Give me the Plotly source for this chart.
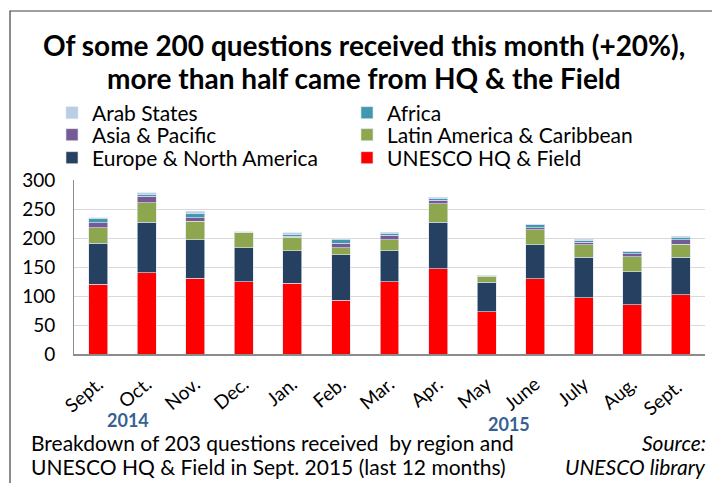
import plotly.graph_objects as go

months = ["Sept.", "Oct.", "Nov.", "Dec.", "Jan.", "Feb.", "Mar.", "Apr.", "May", "June", "July", "Aug.", "Sept. "]
hq_field = [120, 140, 131, 125, 122, 93, 125, 147, 73, 130, 97, 85, 102]
europe_na = [71, 87, 66, 58, 56, 78, 53, 80, 51, 58, 70, 57, 65]
latin_am = [27, 34, 32, 26, 23, 12, 19, 32, 10, 26, 21, 26, 22]
asia_pac = [8, 11, 6, 1, 2, 8, 8, 6, 1, 4, 5, 5, 8]
africa = [7, 3, 7, 0, 3, 7, 3, 3, 0, 5, 2, 3, 4]
arab_states = [2, 3, 4, 1, 3, 1, 2, 2, 1, 1, 3, 1, 2]

# (name, values, colour, legend row)
series = [
    ("UNESCO HQ & Field", hq_field, "#FF0000", "legend3"),
    ("Europe & North America", europe_na, "#254061", "legend3"),
    ("Latin America & Caribbean", latin_am, "#8EA74E", "legend2"),
    ("Asia & Pacific", asia_pac, "#765A96", "legend2"),
    ("Africa", africa, "#4298AF", "legend"),
    ("Arab States", arab_states, "#B9CDE5", "legend"),
]

FONT = "Lato"
# page body has an 8px margin; work in target-image pixels and offset
OFF = 8
W, H = 720 - OFF, 483 - OFF
PL, PR, PT, PB = 74, 705, 180, 354  # plot area in target pixels
L, R, T, B = PL - OFF, W - (PR - OFF), PT - OFF, H - (PB - OFF)
PW = PR - PL
PH = PB - PT

def px(x):
    return (x - PL) / PW

def py(y):
    return (PB - y) / PH

fig = go.Figure()
for name, vals, col, leg in series:
    fig.add_trace(go.Bar(
        x=months, y=vals, name=name, legend=leg,
        marker=dict(color=col, line=dict(color="rgba(220,228,238,0.8)", width=0.8)),
    ))

def legend_row(yc):
    return dict(
        orientation="h", traceorder="reversed",
        x=px(52), y=py(yc), xanchor="left", yanchor="middle",
        entrywidth=250, entrywidthmode="pixels",
        font=dict(family=FONT, size=21, color="black"),
        itemwidth=30, bgcolor="rgba(0,0,0,0)",
    )

fig.update_layout(
    width=W, height=H,
    margin=dict(l=L, r=R, t=T, b=B, autoexpand=False),
    barmode="stack", bargap=0.61,
    plot_bgcolor="white", paper_bgcolor="white",
    font=dict(family=FONT, size=19, color="black"),
    showlegend=True,
    legend=legend_row(113),
    legend2=legend_row(135),
    legend3=legend_row(158),
    xaxis=dict(
        tickangle=-40, showgrid=False, showline=True, linecolor="#8c8c8c", linewidth=1.5,
        tickfont=dict(family=FONT, size=19), ticks="",
        ticklabelstandoff=10,
    ),
    yaxis=dict(
        range=[0, 300], dtick=50, showgrid=True, gridcolor="#d9d9d9", gridwidth=1,
        showline=True, linecolor="#8c8c8c", linewidth=1, zeroline=False,
        tickfont=dict(family=FONT, size=19), ticklabelstandoff=14,
    ),
)

# Title
fig.add_annotation(text="<b>Of some 200 questions received this month (+20%),</b>",
                   xref="paper", yref="paper", x=px(364), y=py(45), xanchor="center", yanchor="middle",
                   showarrow=False, font=dict(family=FONT, size=28, color="black"))
fig.add_annotation(text="<b>more than half came from HQ &amp; the Field</b>",
                   xref="paper", yref="paper", x=px(364), y=py(78), xanchor="center", yanchor="middle",
                   showarrow=False, font=dict(family=FONT, size=28, color="black"))

# Years
fig.add_annotation(text="<b>2014</b>", xref="paper", yref="paper", x=px(128), y=py(420),
                   xanchor="center", yanchor="middle", showarrow=False,
                   font=dict(family=FONT, size=18, color="#376092"))
fig.add_annotation(text="<b>2015</b>", xref="paper", yref="paper", x=px(509), y=py(424),
                   xanchor="center", yanchor="middle", showarrow=False,
                   font=dict(family=FONT, size=18, color="#376092"))

# Footnotes
fig.add_annotation(text="Breakdown of 203 questions received  by region and", xref="paper", yref="paper",
                   x=px(29), y=py(442), xanchor="left", yanchor="middle", showarrow=False,
                   font=dict(family=FONT, size=21))
fig.add_annotation(text="UNESCO HQ &amp; Field in Sept. 2015 (last 12 months)", xref="paper", yref="paper",
                   x=px(29), y=py(466), xanchor="left", yanchor="middle", showarrow=False,
                   font=dict(family=FONT, size=21))
fig.add_annotation(text="<i>Source:</i>", xref="paper", yref="paper",
                   x=px(708), y=py(442), xanchor="right", yanchor="middle", showarrow=False,
                   font=dict(family=FONT, size=21))
fig.add_annotation(text="<i>UNESCO library</i>", xref="paper", yref="paper",
                   x=px(708), y=py(466), xanchor="right", yanchor="middle", showarrow=False,
                   font=dict(family=FONT, size=21))

# Chart-area border
fig.add_shape(type="rect", xref="paper", yref="paper",
              x0=px(10), x1=px(740), y0=py(500), y1=py(11),
              line=dict(color="#404040", width=1.2), fillcolor="rgba(0,0,0,0)", layer="below")

fig.write_html("out.html")
